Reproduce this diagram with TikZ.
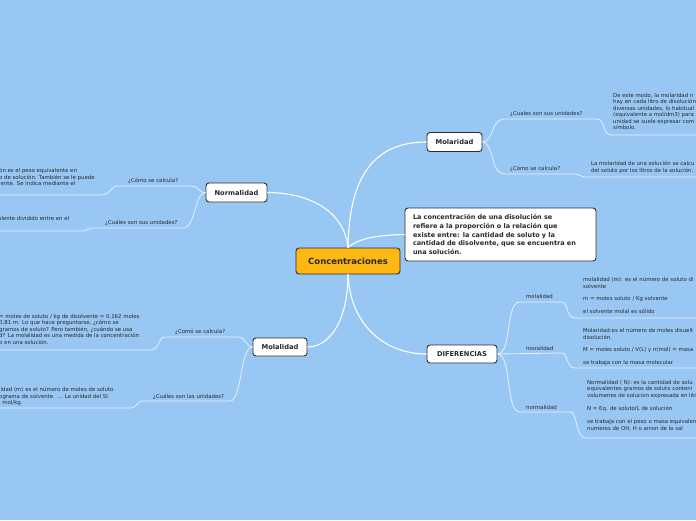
\documentclass[tikz,border=0pt]{standalone}
\usepackage{fontspec}
\setmainfont{DejaVu Sans}
\definecolor{bg}{RGB}{152,199,244}
\definecolor{textc}{RGB}{40,40,40}
\definecolor{darkc}{RGB}{45,45,45}
\definecolor{orangec}{RGB}{253,184,19}
\tikzset{
  mainbox/.style={draw=darkc, line width=0.9pt, rounded corners=3pt, fill=white,
    font=\fontsize{6.7}{8}\selectfont\bfseries, text=textc, inner sep=0, minimum height=19pt},
  rootbox/.style={mainbox, fill=orangec, font=\fontsize{8.5}{10}\selectfont\bfseries,
    minimum width=104pt, minimum height=26pt},
  small/.style={font=\fontsize{5.4}{6.5}\selectfont, text=textc, inner sep=0},
  block/.style={small, align=left, anchor=north west},
  lbl/.style={small, anchor=base west},
  conn/.style={draw=white, line width=1.1pt},
  sub/.style={draw=white, draw opacity=0.75, line width=0.8pt}
}
\begin{document}
\begin{tikzpicture}[x=1pt,y=-1pt]
\useasboundingbox (0,0) rectangle (696,520);
\fill[bg] (0,0) rectangle (696,520);
\begin{scope}
\clip (0,0) rectangle (696,520);

% main nodes
\node[rootbox] (conc) at (348,261) {Concentraciones};
\node[mainbox, minimum width=55pt] (mol) at (454.5,142) {Molaridad};
\node[mainbox, minimum width=61pt] (norm) at (236.5,192.5) {Normalidad};
\node[mainbox, minimum width=54pt, minimum height=18pt] (mola) at (280,347) {Molalidad};
\node[mainbox, minimum width=70pt, minimum height=18pt] (dif) at (462,354) {DIFERENCIAS};
\node[mainbox, font=\fontsize{6.5}{8.7}\selectfont\bfseries, align=left, text width=175pt,
  inner xsep=8pt, minimum height=53pt] (desc) at (500.5,234.5)
  {La concentración de una disolución se\\refiere a la proporción o la relación que\\existe entre: la cantidad de soluto y la\\cantidad de disolvente, que se encuentra en\\una solución.};

% main connectors
\draw[conn] (conc.north) .. controls (349,175) and (375,142) .. (mol.west);
\draw[conn] (conc.north) .. controls (345,215) and (315,193) .. (norm.east);
\draw[conn] (conc.north) .. controls (358,238) and (380,235) .. (desc.west);
\draw[conn] (conc.south) .. controls (348,320) and (330,347) .. (mola.east);
\draw[conn] (conc.south) .. controls (350,325) and (385,354) .. (dif.west);

% free ends
\coordinate (r1) at (700,135);
\coordinate (r2) at (700,177);
\coordinate (r3) at (700,318);
\coordinate (r4) at (700,368);
\coordinate (r5) at (700,438);
\coordinate (l1) at (-5,195);
\coordinate (l2) at (-5,231);
\coordinate (l3) at (-5,350);
\coordinate (l4) at (-5,408);

% Molaridad branch
\node[lbl] (mq1) at (510,115) {¿Cuales son sus unidades?};
\node[block] (mb1) at (613,93) {De este modo, la molaridad n\\hay en cada litro de disolución\\diversas unidades, lo habitual\\(equivalente a mol/dm3) para\\unidad se suele expresar com\\símbolo.};
\draw[sub] (mol.east) .. controls (494,142) and (490,119) .. (505,119) -- (598,119)
  .. controls (604,119) and (603,135) .. (611,135) -- (r1);
\node[lbl] (mq2) at (510,170) {¿Cómo se calcula?};
\node[block] (mb2) at (591,161) {La molaridad de una solución se calcu\\del soluto por los litros de la solución.};
\draw[sub] (mol.east) .. controls (494,142) and (490,174) .. (505,174) -- (575,174)
  .. controls (580,174) and (580,177) .. (586,177) -- (r2);

% DIFERENCIAS branch
\node[lbl] (d1) at (526,298) {molalidad};
\node[block] (db1) at (583,277) {molalidad (m): es el número de soluto di\\solvente\\[6pt]m = moles soluto / Kg solvente\\[6pt]el solvente molal es sólido};
\draw[sub] (dif.east) .. controls (512,354) and (505,302) .. (520,302) -- (562,302)
  .. controls (568,302) and (566,318) .. (575,318) -- (r3);
\node[lbl] (d2) at (526,350) {moralidad};
\node[block] (db2) at (583,328) {Molaridad:es el número de moles disuelt\\disolución.\\[6pt]M = moles soluto / V(L) y n(mol) = masa\\[6pt]se trabaja con la masa molecular};
\draw[sub] (dif.east) -- (562,353)
  .. controls (568,353) and (566,368) .. (575,368) -- (r4);
\node[lbl] (d3) at (526,409) {normalidad};
\node[block] (db3) at (587,380) {Normalidad ( N): es la cantidad de solu\\equivalentes gramos  de soluto conteni\\volumenes de solucion expresada en litro\\[7pt]N = Eq.  de soluto/L de solución\\[6.5pt]se trabaja con el peso o masa equivalen\\numeros de OH, H o anion de la sal};
\draw[sub] (dif.east) .. controls (512,354) and (505,412) .. (520,412) -- (570,412)
  .. controls (578,412) and (575,438) .. (586,438) -- (r5);

% Normalidad branch
\node[lbl] (nq1) at (128,182) {¿Cómo se calcula?};
\node[block] (nb1) at (-1,168) {ón es el peso equivalente en\\o de solución. También se le puede\\lente. Se indica mediante el};
\draw[sub] (norm.west) .. controls (198,193) and (200,186) .. (190,186) -- (118,186)
  .. controls (110,186) and (112,195) .. (100,195) -- (l1);
\node[lbl] (nq2) at (105,224) {¿Cuáles son sus unidades?};
\node[block] (nb2) at (-2,216) {alente dividido entre en el};
\draw[sub] (norm.west) .. controls (194,193) and (196,228) .. (183,228) -- (92,228)
  .. controls (88,228) and (88,231) .. (82,231) -- (l2);

% Molalidad branch
\node[lbl] (mlq1) at (175,333) {¿Comó se calcula?};
\node[block] (mlb1) at (-1,314) {= moles de soluto / kg de disolvente = 0,162 moles\\0,81 m. Lo que hace preguntarse, ¿cómo se\\gramos de soluto? Pero también, ¿cuándo se usa\\d? La molalidad es una medida de la concentración\\o en una solución.};
\draw[sub] (mola.west) .. controls (246,347) and (246,337) .. (238,337) -- (165,337)
  .. controls (158,337) and (160,350) .. (150,350) -- (l3);
\node[lbl] (mlq2) at (153,398) {¿Cuáles son las unidades?};
\node[block] (mlb2) at (-1,387) {lidad (m) es el número de moles de soluto\\ograma de solvente. ... La unidad del SI\\l mol/kg.};
\draw[sub] (mola.west) .. controls (240,347) and (242,401) .. (230,401) -- (142,401)
  .. controls (137,401) and (137,408) .. (130,408) -- (l4);
\end{scope}
\end{tikzpicture}
\end{document}
